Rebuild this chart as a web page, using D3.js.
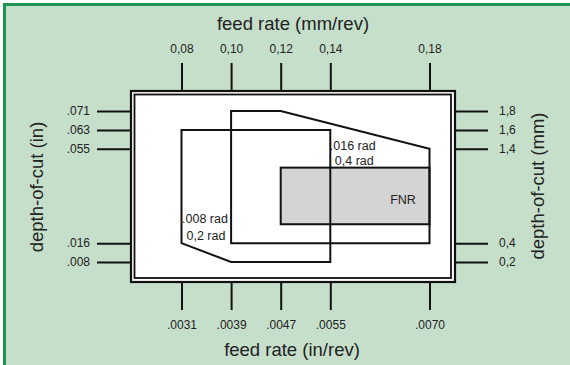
<!DOCTYPE html>
<html>
<head>
<meta charset="utf-8">
<script src="https://cdn.jsdelivr.net/npm/d3@7"></script>
<style>
  body { margin: 0; background: #fff; }
  text { font-family: "Liberation Sans", Arial, Helvetica, sans-serif; fill: #222; }
</style>
</head>
<body>
<svg width="570" height="365"></svg>
<script>
// tick positions are in metric, the inch labels sit on the same ticks
var feedMm = [0.08, 0.10, 0.12, 0.14, 0.18];
var feedMmLabels = ["0,08", "0,10", "0,12", "0,14", "0,18"];
var feedInLabels = [".0031", ".0039", ".0047", ".0055", ".0070"];
var depthMm = [1.8, 1.6, 1.4, 0.4, 0.2];
var depthMmLabels = ["1,8", "1,6", "1,4", "0,4", "0,2"];
var depthInLabels = [".071", ".063", ".055", ".016", ".008"];

// application regions (feed mm/rev, depth mm)
var regionSmallRad = [[0.08, 1.6], [0.14, 1.6], [0.14, 0.2], [0.10, 0.2], [0.08, 0.4]];
var regionLargeRad = [[0.10, 1.8], [0.12, 1.8], [0.18, 1.4], [0.18, 0.4], [0.10, 0.4]];
var fnrBox = {x0: 0.12, x1: 0.18, y0: 0.6, y1: 1.2};

var svg = d3.select("svg"),
    width = +svg.attr("width"),
    height = +svg.attr("height");

var frame = {left: 131, right: 455, top: 91, bottom: 282};

var x = d3.scaleLinear().domain([0.08, 0.18]).range([181.5, 429.5]);
var y = d3.scaleLinear().domain([0.2, 1.8]).range([262, 111]);

// background + green corner rule
svg.append("rect")
    .attr("x", 3).attr("y", 3)
    .attr("width", width - 3).attr("height", height - 3)
    .attr("fill", "#c6dfcb");
svg.append("path")
    .attr("d", "M4.5," + height + "V4.5H" + width)
    .attr("fill", "none")
    .attr("stroke", "#1e9550")
    .attr("stroke-width", 3);

// axes
function styleAxis(g) {
  g.select(".domain").remove();
  g.selectAll(".tick line").attr("stroke", "#111").attr("stroke-width", 2);
  g.selectAll(".tick text").style("font-size", "12px").attr("fill", "#222");
}

svg.append("g")
    .attr("transform", "translate(0," + frame.top + ")")
    .call(d3.axisTop(x).tickValues(feedMm).tickSize(28).tickPadding(10)
      .tickFormat(function(d, i) { return feedMmLabels[i]; }))
    .call(styleAxis);

svg.append("g")
    .attr("transform", "translate(0," + frame.bottom + ")")
    .call(d3.axisBottom(x).tickValues(feedMm).tickSize(28).tickPadding(10)
      .tickFormat(function(d, i) { return feedInLabels[i]; }))
    .call(styleAxis);

svg.append("g")
    .attr("transform", "translate(" + frame.left + ",0)")
    .call(d3.axisLeft(y).tickValues(depthMm).tickSize(34).tickPadding(7)
      .tickFormat(function(d, i) { return depthInLabels[i]; }))
    .call(styleAxis);

svg.append("g")
    .attr("transform", "translate(" + frame.right + ",0)")
    .call(d3.axisRight(y).tickValues(depthMm).tickSize(33).tickPadding(11)
      .tickFormat(function(d, i) { return depthMmLabels[i]; }))
    .call(styleAxis);

// double frame
svg.append("rect")
    .attr("x", frame.left).attr("y", frame.top)
    .attr("width", frame.right - frame.left).attr("height", frame.bottom - frame.top)
    .attr("fill", "#fff").attr("stroke", "#111").attr("stroke-width", 2.2);
svg.append("rect")
    .attr("x", frame.left + 3.5).attr("y", frame.top + 3.5)
    .attr("width", frame.right - frame.left - 7.5).attr("height", frame.bottom - frame.top - 7.5)
    .attr("fill", "#fff").attr("stroke", "#111").attr("stroke-width", 1.8);

// FNR box
svg.append("rect")
    .attr("x", x(fnrBox.x0)).attr("y", y(fnrBox.y1))
    .attr("width", x(fnrBox.x1) - x(fnrBox.x0))
    .attr("height", y(fnrBox.y0) - y(fnrBox.y1))
    .attr("fill", "#d4d4d4").attr("stroke", "#111").attr("stroke-width", 2);

var line = d3.line()
    .x(function(d) { return x(d[0]); })
    .y(function(d) { return y(d[1]); })
    .curve(d3.curveLinearClosed);

svg.selectAll(".region")
    .data([regionSmallRad, regionLargeRad])
  .enter().append("path")
    .attr("class", "region")
    .attr("d", line)
    .attr("fill", "none")
    .attr("stroke", "#111")
    .attr("stroke-width", 2)
    .attr("stroke-linejoin", "miter");

// region labels
svg.append("text").attr("x", x(0.08) + 0.5).attr("y", 222.5).style("font-size", "12.5px").text(".008 rad");
svg.append("text").attr("x", x(0.08) + 5).attr("y", 239.5).style("font-size", "12.5px").text("0,2 rad");
svg.append("text").attr("x", x(0.14) - 0.5).attr("y", 149.5).style("font-size", "12.5px").text(".016 rad");
svg.append("text").attr("x", x(0.14) + 4.5).attr("y", 164.5).style("font-size", "12.5px").text("0,4 rad");
svg.append("text").attr("x", 403).attr("y", 203.5).attr("text-anchor", "middle")
    .style("font-size", "12.5px").text("FNR");

// titles
svg.append("text").attr("x", 293).attr("y", 30).attr("text-anchor", "middle")
    .style("font-size", "18.5px").text("feed rate (mm/rev)");
svg.append("text").attr("x", 292).attr("y", 356).attr("text-anchor", "middle")
    .style("font-size", "18.5px").text("feed rate (in/rev)");
svg.append("text").attr("transform", "translate(43,187) rotate(-90)").attr("text-anchor", "middle")
    .style("font-size", "18.5px").text("depth-of-cut (in)");
svg.append("text").attr("transform", "translate(544,186) rotate(-90)").attr("text-anchor", "middle")
    .style("font-size", "18.5px").text("depth-of-cut (mm)");
</script>
</body>
</html>
